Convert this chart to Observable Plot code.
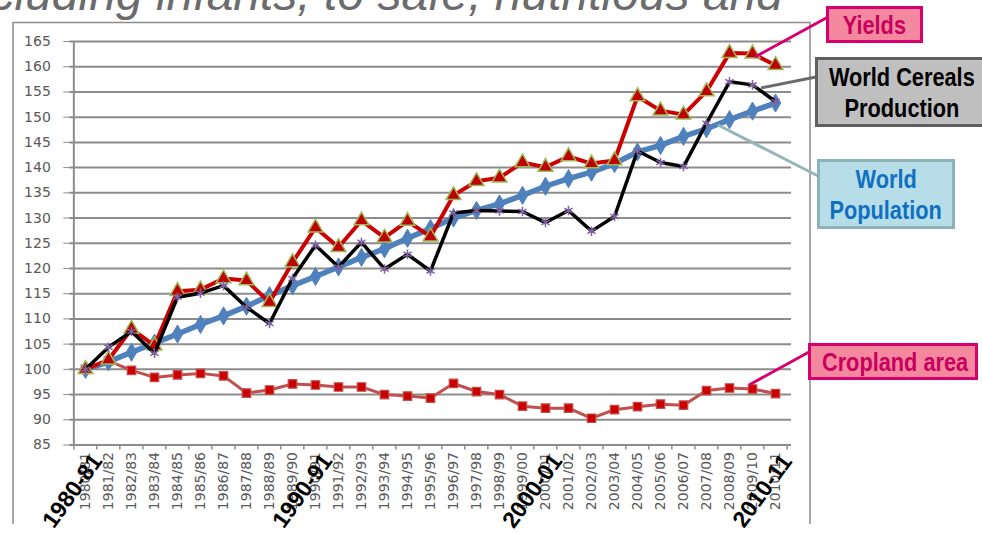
<!DOCTYPE html>
<html><head><meta charset="utf-8">
<script src="https://cdn.jsdelivr.net/npm/d3@7"></script>
<script src="https://cdn.jsdelivr.net/npm/@observablehq/plot@0.6"></script>
<style>
html,body{margin:0;padding:0;background:#fff;overflow:hidden;}
#wrap{position:relative;width:982px;height:534px;overflow:hidden;font-family:"Liberation Sans",Arial,sans-serif;}
#wrap > svg{position:absolute;left:0;top:0;}
.box{position:absolute;box-sizing:border-box;font-weight:bold;font-size:25px;text-align:center;line-height:31px;white-space:nowrap;}
.box span{display:inline-block;transform:scaleX(0.87);transform-origin:center;}
</style></head><body><div id="wrap"></div>
<script>
const seasons = ["1980/81","1981/82","1982/83","1983/84","1984/85","1985/86","1986/87","1987/88","1988/89","1989/90",
  "1990/91","1991/92","1992/93","1993/94","1994/95","1995/96","1996/97","1997/98","1998/99","1999/00",
  "2000/01","2001/02","2002/03","2003/04","2004/05","2005/06","2006/07","2007/08","2008/09","2009/10","2010/11"];
const yields = [100.0,101.9,108.0,104.7,115.5,115.8,118.0,117.6,113.3,121.2,128.1,124.2,129.5,126.1,129.4,126.3,
  134.5,137.3,138.0,141.0,140.1,142.2,140.8,141.4,154.1,151.3,150.5,155.1,162.7,162.6,160.3];
const cereals = [100.0,104.4,107.5,103.2,114.3,115.1,116.6,112.3,109.1,118.0,124.6,120.3,125.2,119.9,122.8,119.5,
  131.0,131.5,131.4,131.3,129.1,131.5,127.4,130.3,143.3,141.0,140.2,148.8,157.0,156.4,153.1];
const population = [100.0,101.5,103.4,105.2,107.0,108.9,110.6,112.5,114.6,116.6,118.4,120.3,122.2,123.9,126.0,127.9,
  130.0,131.5,132.8,134.5,136.3,137.8,139.1,140.8,143.1,144.4,146.2,147.7,149.5,151.2,152.8];
const cropland = [100.0,101.7,99.8,98.4,98.9,99.2,98.7,95.3,95.9,97.1,96.9,96.5,96.5,95.0,94.7,94.3,
  97.2,95.6,95.0,92.7,92.3,92.3,90.3,92.0,92.6,93.1,92.9,95.8,96.3,96.1,95.2];
const yTicks = [85,90,95,100,105,110,115,120,125,130,135,140,145,150,155,160,165];
const decadeSeasons = ["1980/81","1990/91","2000/01","2010/11"];
const decadeLabels = ["1980-81","1990-91","2000-01","2010-11"];

const rows = seasons.map((s,i)=>({s, yields:yields[i], cereals:cereals[i], population:population[i], cropland:cropland[i]}));
const mL = 69.3, mR = 191, mT = 41, mB = 89.5, W = 982, H = 534;
const step = (W - mL - mR) / seasons.length;
const grid = "#8c8c8c";

const chart = Plot.plot({
  width: W, height: H,
  marginLeft: mL, marginRight: mR, marginTop: mT, marginBottom: mB,
  style: {background: "transparent", fontFamily: "DejaVu Sans", fontSize: "14px", color: "#595959", overflow: "visible"},
  x: {type: "point", domain: seasons, padding: 0.5, axis: null},
  y: {domain: [85, 165], axis: null},
  marks: [
    Plot.ruleY(yTicks, {stroke: grid, strokeWidth: 2}),
    Plot.ruleX([seasons[0]], {dx: -step/2, y1: 85, y2: 165, stroke: grid, strokeWidth: 2}),
    Plot.ruleX(seasons, {dx: -step/2, y1: 85, y2: 84, stroke: grid, strokeWidth: 1.5}),
    Plot.ruleX([seasons[seasons.length-1]], {dx: step/2, y1: 85, y2: 84, stroke: grid, strokeWidth: 1.5}),
    Plot.axisY(yTicks, {tickSize: 6, tickPadding: 13, stroke: grid, color: "#595959", fontSize: 14, label: null, tickFormat: d => String(d)}),
    Plot.axisX(seasons, {tickSize: 0, tickPadding: 7, tickRotate: -90, color: "#595959", fontSize: 14, label: null}),
    Plot.line(rows, {x: "s", y: "cropland", stroke: "#c0504d", strokeWidth: 3, strokeLinejoin: "round"}),
    Plot.dot(rows, {x: "s", y: "cropland", symbol: "square", r: 4.8, fill: "#cc0000", stroke: "#c0504d", strokeWidth: 1.2}),
    Plot.line(rows, {x: "s", y: "population", stroke: "#4f81bd", strokeWidth: 5.5, strokeLinejoin: "round"}),
    Plot.dot(rows, {x: "s", y: "population", symbol: "diamond", r: 5.5, fill: "#4f81bd", stroke: "#4f81bd", strokeWidth: 1}),
    Plot.line(rows, {x: "s", y: "yields", stroke: "#cc0000", strokeWidth: 4, strokeLinejoin: "round"}),
    Plot.dot(rows, {x: "s", y: "yields", symbol: "triangle", r: 5.5, fill: "#c00000", stroke: "#9bbb59", strokeWidth: 1.5}),
    Plot.line(rows, {x: "s", y: "cereals", stroke: "#000", strokeWidth: 3.5, strokeLinejoin: "round"}),
    Plot.dot(rows, {x: "s", y: "cereals", symbol: "asterisk", r: 4.5, stroke: "#8064a2", strokeWidth: 1.5}),
    Plot.text(decadeSeasons, {x: d => d, text: (d, i) => decadeLabels[i], frameAnchor: "bottom", dx: -13, dy: 46,
      rotate: -54, fontSize: 23, fontWeight: "bold", fill: "#000", fontFamily: "Liberation Sans", textAnchor: "middle", lineAnchor: "middle"})
  ]
});
const wrap = document.getElementById("wrap");
wrap.appendChild(chart);

const ns = "http://www.w3.org/2000/svg";
const ov = document.createElementNS(ns, "svg");
ov.setAttribute("width", W); ov.setAttribute("height", H);
ov.innerHTML = `
  <text x="783" y="10" text-anchor="end" font-family="Liberation Sans" font-style="italic" font-size="48" fill="#6b6b6b">including infants, to safe, nutritious and</text>
  <path d="M13,524 V22.5 H810 V524" fill="none" stroke="#8c8c8c" stroke-width="1.5"/>
  <line x1="755" y1="57" x2="828" y2="17" stroke="#d6006e" stroke-width="3"/>
  <line x1="761" y1="88" x2="816" y2="77" stroke="#6b6b6b" stroke-width="3"/>
  <line x1="718" y1="125" x2="818" y2="176" stroke="#95b5b7" stroke-width="3"/>
  <line x1="749" y1="385" x2="809" y2="352" stroke="#d6006e" stroke-width="3"/>`;
wrap.appendChild(ov);

const boxes = [
  {t: ["Yields"], l: 826, tp: 6, w: 97, h: 37, bg: "#f4889e", bd: "#d6006e", c: "#c8005e"},
  {t: ["World Cereals", "Production"], l: 815, tp: 57, w: 174, h: 70, bg: "#bfbfbf", bd: "#606060", c: "#000"},
  {t: ["World", "Population"], l: 817, tp: 159, w: 138, h: 70, bg: "#b7dee8", bd: "#8cb3b6", c: "#0f70c2"},
  {t: ["Cropland area"], l: 808, tp: 343, w: 170, h: 37, bg: "#f4889e", bd: "#d6006e", c: "#c8005e"}
];
for (const b of boxes) {
  const d = document.createElement("div");
  d.className = "box";
  d.innerHTML = b.t.map(s => `<span>${s}</span>`).join("<br>");
  Object.assign(d.style, {left: b.l + "px", top: b.tp + "px", width: b.w + "px", height: b.h + "px",
    background: b.bg, border: "3px solid " + b.bd, color: b.c, paddingTop: (b.h > 40 ? 2 : 1) + "px"});
  wrap.appendChild(d);
}
</script></body></html>
